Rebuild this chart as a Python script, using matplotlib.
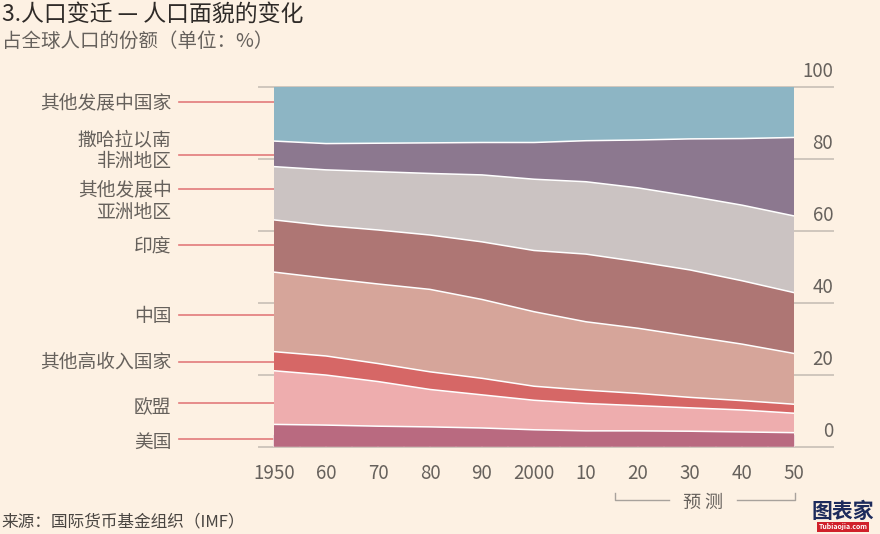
import matplotlib
matplotlib.use('Agg')
import matplotlib.pyplot as plt
import numpy as np

# -------------------------------------------------------------------------------------------------------------------- #
# Data (share of world population, %)
# -------------------------------------------------------------------------------------------------------------------- #

years = [1950, 1960, 1970, 1980, 1990, 2000, 2010, 2020, 2030, 2040, 2050]
us = [6.2, 6.0, 5.7, 5.5, 5.2, 4.7, 4.4, 4.4, 4.3, 4.1, 3.9]
eu = [14.9, 13.9, 12.4, 10.4, 9.2, 8.2, 7.6, 7.0, 6.5, 6.1, 5.4]
other_high = [5.3, 5.3, 5.0, 4.9, 4.6, 3.9, 3.7, 3.4, 2.9, 2.6, 2.5]
china = [22.1, 21.6, 22.1, 22.9, 21.9, 20.7, 19.0, 18.1, 17.0, 15.7, 14.1]
india = [14.5, 14.6, 15.0, 15.1, 16.0, 17.0, 18.8, 18.5, 18.4, 17.6, 16.9]
other_asia = [14.8, 15.5, 16.2, 17.1, 18.6, 19.8, 20.1, 20.5, 20.5, 21.0, 21.3]
ssa = [7.1, 7.3, 7.9, 8.5, 9.0, 10.2, 11.4, 13.3, 15.9, 18.5, 21.8]
other_dev = [15.1, 15.8, 15.7, 15.6, 15.5, 15.5, 15.0, 14.8, 14.5, 14.4, 14.1]

names = ['美国', '欧盟', '其他高收入国家', '中国', '印度',
         '其他发展中\n亚洲地区', '撒哈拉以南\n非洲地区', '其他发展中国家']
xtick_labels = ['1950', '60', '70', '80', '90', '2000', '10', '20', '30', '40', '50']
ytick_values = [0, 20, 40, 60, 80, 100]

# -------------------------------------------------------------------------------------------------------------------- #
# Style / layout
# -------------------------------------------------------------------------------------------------------------------- #

plt.rcParams['font.family'] = ['Noto Sans CJK SC', 'DejaVu Sans']

bg = '#fdf1e3'
colors = ['#b96a80', '#eeadae', '#d66766', '#d6a59a', '#ae7674', '#cbc3c2', '#8c788f', '#8db5c4']
grid_col = '#cfc6bc'
text_col = '#66615c'
lead_col = '#e27b7b'

# label layout: text y and leader-line y (in % units)
label_y = [1.2, 11.2, 23.4, 36.1, 55.5, 68.2, 82.2, 95.6]
line_y = [2.2, 12.2, 23.6, 36.7, 56.1, 71.7, 81.1, 95.8]

fig = plt.figure(figsize=(8.8, 5.34), dpi=100, facecolor=bg)
ax = fig.add_axes([274 / 880, 87.3 / 534, 520 / 880, 360 / 534])
ax.set_facecolor(bg)

series = [us, eu, other_high, china, india, other_asia, ssa, other_dev]

# gridlines running past both sides of the plot
for v in ytick_values:
    ax.plot([1947.1, 2057.5], [v, v], color=grid_col, lw=1.4, clip_on=False, zorder=0)
    ax.text(2057.5, v + 1.2, str(v), ha='right', va='bottom', fontsize=13.5,
            color=text_col, clip_on=False)

ax.stackplot(years, *series, colors=colors, linewidth=0, zorder=2)

# white separators between bands
tops = np.cumsum(np.array(series), axis=0)
for t in tops[:-1]:
    ax.plot(years, t, color='white', lw=1.1, zorder=3)

ax.set_xlim(1950, 2050)
ax.set_ylim(0, 100)
for s in ax.spines.values():
    s.set_visible(False)
ax.set_yticks([])

ax.set_xticks(years)
ax.set_xticklabels(xtick_labels)
ax.set_xticks(np.arange(1955, 2050, 10), minor=True)
ax.tick_params(axis='x', which='major', direction='in', length=8.5, width=1.1,
               color='#edd3d9', labelsize=13.5, labelcolor=text_col, pad=12)
ax.tick_params(axis='x', which='minor', direction='in', length=6.5, width=1.1,
               color='#edd3d9')
for t in ax.xaxis.get_major_ticks() + ax.xaxis.get_minor_ticks():
    t.tick1line.set_zorder(4)

# left labels with leader lines
for name, ty, ly in zip(names, label_y, line_y):
    ax.text(1930.3, ty, name, ha='right', va='center', fontsize=13.5, color=text_col,
            linespacing=1.05, clip_on=False)
    ax.plot([1931.8, 1950], [ly, ly], color=lead_col, lw=1.2, clip_on=False, zorder=1)

# forecast bracket
ax.plot([2015.5, 2015.5, 2026.0], [-12.8, -14.8, -14.8], color='#a8a29c', lw=1, clip_on=False)
ax.plot([2039.0, 2050.2, 2050.2], [-14.8, -14.8, -12.8], color='#a8a29c', lw=1, clip_on=False)
ax.text(2032.5, -15.6, '预 测', ha='center', va='center', fontsize=13, color=text_col, clip_on=False)

# titles and source
fig.text(0.002, 1 - 14 / 534, '3.人口变迁 — 人口面貌的变化', ha='left', va='center',
         fontsize=16.5, color='#2f2b28')
fig.text(0.002, 1 - 41 / 534, '占全球人口的份额（单位：%）', ha='left', va='center',
         fontsize=14, color=text_col)
fig.text(0.002, 1 - 522 / 534, '来源：国际货币基金组织（IMF）', ha='left', va='center',
         fontsize=12, color='#4a4642')

# watermark
fig.text(843 / 880, 1 - 511 / 534, '图表家', ha='center', va='center', fontsize=15,
         fontweight='bold', color='#1d2b5c')
fig.text(843 / 880, 1 - 527 / 534, 'Tubiaojia.com', ha='center', va='center', fontsize=5,
         fontweight='bold', color='white',
         bbox=dict(boxstyle='square,pad=0.15', fc='#d0202a', ec='none'))

fig.savefig('out.png', dpi=100, facecolor=bg)
